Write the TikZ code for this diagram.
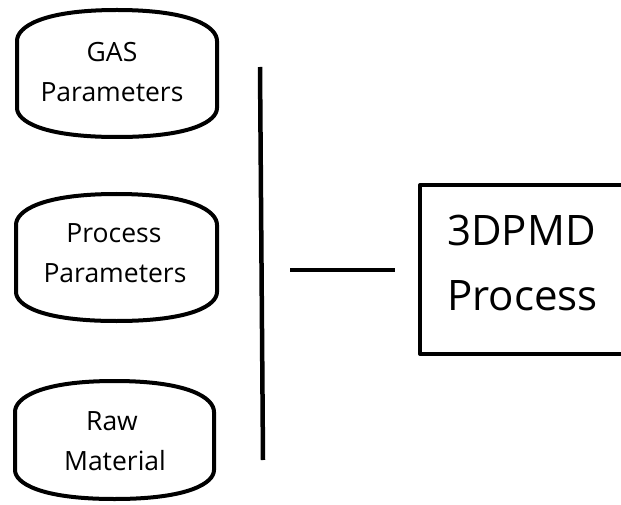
\documentclass[tikz,border=0pt]{standalone}
\usepackage{fontspec}
\setmainfont{Open Sans}
\begin{document}
\begin{tikzpicture}[x=1pt,y=-1pt,
  outline/.style={draw=black,line width=4pt,line join=round},
  small/.style={font=\fontsize{26.5}{26.5}\selectfont,anchor=base,inner sep=0pt},
  big/.style={font=\fontsize{42}{42}\selectfont,anchor=base west,inner sep=0pt},
  bar/.style={draw=black,line width=4.5pt}]
\useasboundingbox (0,0) rectangle (621,505);
\clip (0,0) rectangle (621,505);
\newcommand\myCyl[4]{%
  \pgfmathsetmacro\xc{(#1+#3)/2}%
  \draw[outline] (#1,#2+31) .. controls (#1,#2+17) and (#1+25,#2) .. (\xc,#2)
    .. controls (#3-25,#2) and (#3,#2+17) .. (#3,#2+31)
    -- (#3,#4-29) .. controls (#3,#4-16) and (#3-25,#4) .. (\xc,#4)
    .. controls (#1+25,#4) and (#1,#4-16) .. (#1,#4-29) -- cycle;}
% cylinders
\myCyl{17}{10}{217}{137}
\myCyl{16}{194}{217}{321}
\myCyl{15}{381}{214}{499}
\node[small] (gas1) at (112,62) {GAS};
\node[small] (gas2) at (112,102) {Parameters};
\node[small] (pp1) at (114,242) {Process};
\node[small] (pp2) at (115,282) {Parameters};
\node[small] (rm1) at (112,430) {Raw};
\node[small] (rm2) at (115,470) {Material};
% vertical bar and horizontal connector
\coordinate (vtop) at (260,67);
\coordinate (vbot) at (263,460);
\draw[bar] (vtop) -- (vbot);
\coordinate (hl) at (290,270);
\coordinate (hr) at (395,270);
\draw[bar] (hl) -- (hr);
% process box
\node[outline,rectangle,minimum width=250pt,minimum height=169pt,anchor=north west,inner sep=0pt] (box) at (418,183) {};
\node[big] (t1) at (447,245) {3DPMD};
\node[big] (t2) at (447,310) {Process};
\end{tikzpicture}
\end{document}
